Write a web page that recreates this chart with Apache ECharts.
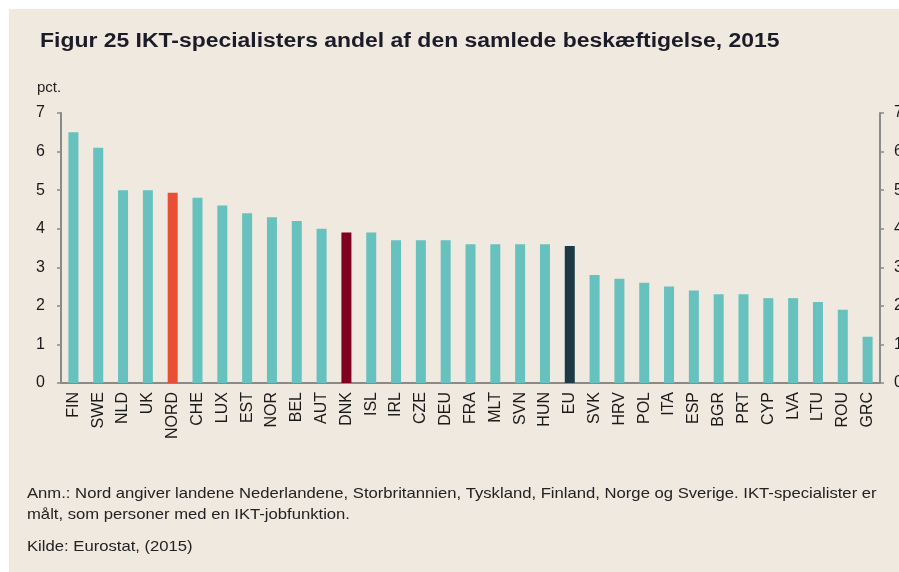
<!DOCTYPE html>
<html>
<head>
<meta charset="utf-8">
<script src="https://cdn.jsdelivr.net/npm/echarts@6/dist/echarts.min.js"></script>
<style>
  html, body { margin: 0; padding: 0; background: #fff; }
  #chart { width: 899px; height: 572px; }
</style>
</head>
<body>
<div id="chart"></div>
<script>
// kategorier (lande) og andel IKT-specialister i pct.
let countries = ["FIN", "SWE", "NLD", "UK", "NORD", "CHE", "LUX", "EST", "NOR", "BEL", "AUT",
  "DNK", "ISL", "IRL", "CZE", "DEU", "FRA", "MLT", "SVN", "HUN", "EU", "SVK", "HRV", "POL",
  "ITA", "ESP", "BGR", "PRT", "CYP", "LVA", "LTU", "ROU", "GRC"];
let shares = [6.5, 6.1, 5.0, 5.0, 4.93, 4.8, 4.6, 4.4, 4.3, 4.2, 4.0,
  3.9, 3.9, 3.7, 3.7, 3.7, 3.6, 3.6, 3.6, 3.6, 3.55, 2.8, 2.7, 2.6,
  2.5, 2.4, 2.3, 2.3, 2.2, 2.2, 2.1, 1.9, 1.2];
let yTicks = [0, 1, 2, 3, 4, 5, 6, 7];

let titleText = "Figur 25 IKT-specialisters andel af den samlede beskæftigelse, 2015";
let noteLines = [
  "Anm.: Nord angiver landene Nederlandene, Storbritannien, Tyskland, Finland, Norge og Sverige. IKT-specialister er",
  "målt, som personer med en IKT-jobfunktion."
];
let sourceText = "Kilde: Eurostat, (2015)";

let barColor = "#67c1bf";
let highlight = { NORD: "#e94f35", DNK: "#80001f", EU: "#1b3a46" };

let font = "'Liberation Sans', Arial, sans-serif";
let axisLine = { lineStyle: { color: "#8a8a8a", width: 2 } };
let axisTick = { lineStyle: { color: "#8a8a8a", width: 1.5 }, length: 4 };

let chart = echarts.init(document.getElementById("chart"), null, { renderer: "canvas" });

let yAxisBase = {
  type: "value",
  min: yTicks[0],
  max: yTicks[yTicks.length - 1],
  interval: 1,
  splitLine: { show: false },
  axisLine: Object.assign({ show: true }, axisLine),
  axisTick: Object.assign({ show: true }, axisTick)
};

chart.setOption({
  backgroundColor: "#ffffff",
  textStyle: { fontFamily: font },
  graphic: [
    {
      type: "rect", left: 9, top: 9, z: -10,
      shape: { width: 890, height: 563 },
      style: { fill: "#f0e9df" }
    },
    {
      type: "text", x: 40, y: 31, scaleX: 1.147,
      style: { text: titleText, font: "bold 20px " + font, fill: "#1c1c28" }
    },
    {
      type: "text", x: 37, y: 80,
      style: { text: "pct.", font: "15px " + font, fill: "#222" }
    },
    {
      type: "text", x: 27, y: 483, scaleX: 1.11,
      style: { text: noteLines.join("\n"), font: "15px " + font, fill: "#222", lineHeight: 21 }
    },
    {
      type: "text", x: 27, y: 539, scaleX: 1.11,
      style: { text: sourceText, font: "15px " + font, fill: "#222" }
    }
  ],
  grid: { left: 61, right: 19, top: 113, bottom: 189, containLabel: false, outerBoundsMode: "none" },
  xAxis: {
    type: "category",
    data: countries,
    axisLine: axisLine,
    axisTick: axisTick,
    axisLabel: { rotate: 90, fontSize: 16, color: "#1a1a1a", margin: 9, interval: 0 }
  },
  yAxis: [
    Object.assign({}, yAxisBase, {
      position: "left",
      axisLabel: { fontSize: 16, color: "#1a1a1a", margin: 16 }
    }),
    Object.assign({}, yAxisBase, {
      position: "right",
      axisLabel: { fontSize: 16, color: "#1a1a1a", margin: 14 }
    })
  ],
  series: [{
    type: "bar",
    barWidth: 10,
    silent: true,
    data: shares.map(function (v, i) {
      let c = highlight[countries[i]] || barColor;
      return { value: v, itemStyle: { color: c } };
    })
  }]
});
</script>
</body>
</html>
